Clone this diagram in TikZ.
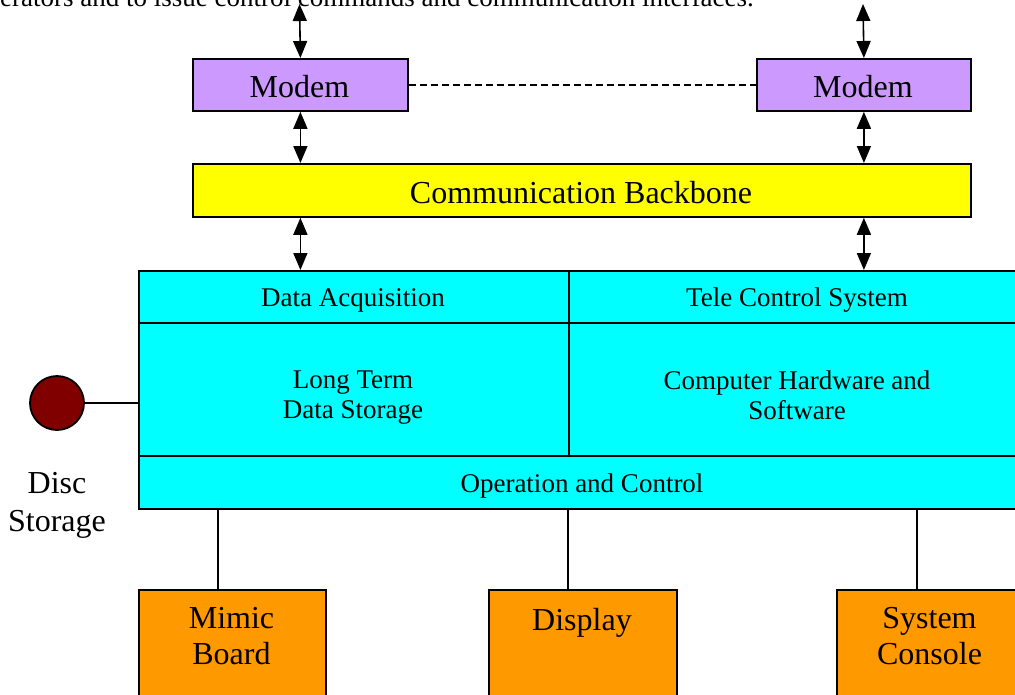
\documentclass[tikz,border=0pt]{standalone}
\usepackage{fontspec}
\setmainfont{Liberation Serif}
\usetikzlibrary{arrows.meta}
\definecolor{lav}{HTML}{CC99FF}
\definecolor{ylw}{HTML}{FFFF00}
\definecolor{cyn}{HTML}{00FFFF}
\definecolor{org}{HTML}{FF9900}
\definecolor{dkred}{HTML}{800000}
\begin{document}
\begin{tikzpicture}[x=1pt,y=-1pt,
  box/.style={draw=black, line width=1.8pt, inner sep=0pt, anchor=north west},
  bigtxt/.style={font=\fontsize{32}{36}\selectfont, inner sep=0pt, align=center},
  smalltxt/.style={font=\fontsize{27}{30}\selectfont, inner sep=0pt, align=center},
  dbl/.style={line width=1.6pt, {Triangle[length=17pt,width=14pt]}-{Triangle[length=17pt,width=14pt]}},
  link/.style={line width=1.8pt}]
\useasboundingbox (0,0) rectangle (1015,694);
\clip (0,0) rectangle (1015,694);

% top text (cut off)
\node[smalltxt, anchor=base west] (toptext) at (0,6) {erators and to issue control commands and communication interfaces.};

% modems
\node[box, fill=lav, minimum width=215pt, minimum height=52pt] (m1) at (192,58) {};
\node[box, fill=lav, minimum width=214pt, minimum height=52pt] (m2) at (756,58) {};
\node[bigtxt, anchor=base] (m1t) at (299.5,97.7) {Modem};
\node[bigtxt, anchor=base] (m2t) at (863,97.7) {Modem};
\coordinate (t1) at (299.5,4);
\coordinate (t2) at (863,4);

% backbone
\node[box, fill=ylw, minimum width=778pt, minimum height=53pt] (bb) at (192,163) {};
\node[bigtxt, anchor=base] (bbt) at (581,203) {Communication Backbone};

% cyan block
\node[box, fill=cyn, minimum width=430pt, minimum height=52pt] (da) at (138,270) {};
\node[box, fill=cyn, minimum width=458pt, minimum height=52pt] (tc) at (568,270) {};
\node[box, fill=cyn, minimum width=430pt, minimum height=133pt] (lt) at (138,322) {};
\node[box, fill=cyn, minimum width=458pt, minimum height=133pt] (ch) at (568,322) {};
\node[box, fill=cyn, minimum width=888pt, minimum height=53pt] (op) at (138,455) {};
\node[smalltxt, anchor=base] (dat) at (353,306) {Data Acquisition};
\node[smalltxt, anchor=base] (tct) at (797,306) {Tele Control System};
\node[smalltxt] (ltt) at (353,397.9) {Long Term\\Data Storage};
\node[smalltxt] (cht) at (797,395.1) {Computer Hardware and\\Software};
\node[smalltxt, anchor=base] (opt) at (582,492) {Operation and Control};

% disc storage
\node[circle, draw=black, line width=1.8pt, fill=dkred, minimum size=54pt, inner sep=0pt] (disc) at (57,403) {};
\node[font=\fontsize{32}{38}\selectfont, inner sep=0pt, align=center] (disct) at (57,505.7) {Disc\\Storage};

% bottom boxes
\node[box, fill=org, minimum width=187pt, minimum height=120pt] (mb) at (138,589) {};
\node[box, fill=org, minimum width=188pt, minimum height=120pt] (dp) at (488,589) {};
\node[box, fill=org, minimum width=187pt, minimum height=120pt] (sc) at (836,589) {};
\node[bigtxt] (mbt) at (231.5,636.4) {Mimic\\Board};
\node[bigtxt] (dpt) at (582,622.7) {Display};
\node[bigtxt] (sct) at (929.5,636.4) {System\\Console};
\coordinate (c1) at (218,0);
\coordinate (c2) at (568,0);
\coordinate (c3) at (917,0);

% connectors
\draw[dbl] (t1) -- (m1.north);
\draw[dbl] (t2) -- (m2.north);
\draw[dbl] (m1.south) -- (m1.south |- bb.north);
\draw[dbl] (m2.south) -- (m2.south |- bb.north);
\draw[dbl] (bb.south -| m1) -- (da.north -| m1);
\draw[dbl] (bb.south -| m2) -- (tc.north -| m2);
\draw[line width=1.6pt, dash pattern=on 7pt off 4pt] (m1.east) -- (m2.west);
\draw[link] (disc.east) -- (lt.west |- disc);
\draw[link] (op.south -| c1) -- (mb.north -| c1);
\draw[link] (op.south -| c2) -- (dp.north -| c2);
\draw[link] (op.south -| c3) -- (sc.north -| c3);
\end{tikzpicture}
\end{document}
